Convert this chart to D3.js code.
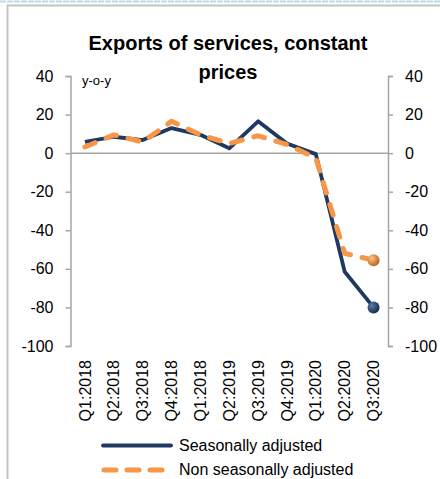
<!DOCTYPE html>
<html><head><meta charset="utf-8">
<script src="https://cdn.jsdelivr.net/npm/d3@7/dist/d3.min.js"></script>
<style>body{margin:0;background:#fff;} svg{display:block;font-family:"Liberation Sans",Arial,sans-serif;}</style>
</head><body>
<script>
const categories = ["Q1:2018","Q2:2018","Q3:2018","Q4:2018","Q1:2018","Q2:2019","Q3:2019","Q4:2019","Q1:2020","Q2:2020","Q3:2020"];
const seasonallyAdjusted = [5.8, 8.5, 6.8, 13, 9.5, 2.5, 16.5, 5, -0.5, -61.5, -80];
const nonSeasonallyAdjusted = [3.2, 9.5, 5.8, 16.5, 9.5, 5, 9, 4.5, -2.5, -52, -55.5];
const yTicks = [40, 20, 0, -20, -40, -60, -80, -100];
const seriesNames = ["Seasonally adjusted", "Non seasonally adjusted"];

(function(){
const W = 440, H = 479;
const svg = d3.select("body").append("svg").attr("width", W).attr("height", H);

const defs = svg.append("defs");
const g1 = defs.append("radialGradient").attr("id","gNavy").attr("cx","35%").attr("cy","35%").attr("r","70%");
g1.append("stop").attr("offset","0%").attr("stop-color","#5a7bab");
g1.append("stop").attr("offset","100%").attr("stop-color","#14284a");
const g2 = defs.append("radialGradient").attr("id","gOrange").attr("cx","35%").attr("cy","35%").attr("r","70%");
g2.append("stop").attr("offset","0%").attr("stop-color","#fcc48a");
g2.append("stop").attr("offset","100%").attr("stop-color","#b8621c");

// frame
svg.append("line").attr("x1",0).attr("x2",W).attr("y1",1.5).attr("y2",1.5)
  .attr("stroke","#b7dde6").attr("stroke-width",2).attr("stroke-dasharray","6,1");
svg.append("path").attr("d",`M7.5,${H} V5.5 H${W}`).attr("fill","none")
  .attr("stroke","#c4c4c4").attr("stroke-width",2);

const mLeft = 70.5, mRight = 388, mTop = 76, mBottom = 346;
const x = d3.scaleBand().domain(d3.range(categories.length)).range([mLeft, mRight]);
const y = d3.scaleLinear().domain([-100, 40]).range([mBottom, mTop]);

const axisColor = "#a6a6a6";
const fmt = d => String(d);
const yl = svg.append("g").attr("transform",`translate(${mLeft},0)`)
  .call(d3.axisLeft(y).tickValues(yTicks).tickSize(5).tickPadding(12).tickFormat(fmt));
const yr = svg.append("g").attr("transform",`translate(${mRight},0)`)
  .call(d3.axisRight(y).tickValues(yTicks).tickSize(5).tickPadding(12).tickFormat(fmt));
[yl, yr].forEach(a => {
  a.select(".domain").attr("stroke", axisColor).attr("stroke-width",1.5);
  a.selectAll(".tick line").attr("stroke", axisColor).attr("stroke-width",1.5);
  a.selectAll(".tick text").attr("font-size",16).attr("fill","#000").attr("font-family","Liberation Sans, Arial, sans-serif");
});
// zero line
svg.append("line").attr("x1",mLeft).attr("x2",mRight).attr("y1",y(0)).attr("y2",y(0))
  .attr("stroke", axisColor).attr("stroke-width",1.5);

// x labels
svg.append("g").selectAll("text").data(categories).join("text")
  .attr("transform",(d,i)=>`translate(${x(i)+x.bandwidth()/2},360) rotate(-90)`)
  .attr("text-anchor","end").attr("dy","0.35em").attr("font-size",16).text(d=>d);

// title
svg.append("text").attr("x",228).attr("y",50).attr("text-anchor","middle")
  .attr("font-weight","bold").attr("font-size",20).text("Exports of services, constant");
svg.append("text").attr("x",228).attr("y",79).attr("text-anchor","middle")
  .attr("font-weight","bold").attr("font-size",20).text("prices");
svg.append("text").attr("x",82).attr("y",85).attr("font-size",13).text("y-o-y");

const line = d3.line().x((d,i)=>x(i)+x.bandwidth()/2).y(d=>y(d));
svg.append("path").datum(seasonallyAdjusted).attr("d",line).attr("fill","none")
  .attr("stroke","#1f3a60").attr("stroke-width",3.8).attr("stroke-linejoin","round");
svg.append("path").datum(nonSeasonallyAdjusted).attr("d",line).attr("fill","none")
  .attr("stroke","#f79646").attr("stroke-width",5).attr("stroke-dasharray","11,12").attr("stroke-linecap","round").attr("stroke-linejoin","round");

const n = categories.length - 1;
svg.append("circle").attr("cx",x(n)+x.bandwidth()/2).attr("cy",y(nonSeasonallyAdjusted[n])).attr("r",6).attr("fill","url(#gOrange)");
svg.append("circle").attr("cx",x(n)+x.bandwidth()/2).attr("cy",y(seasonallyAdjusted[n])).attr("r",6).attr("fill","url(#gNavy)");

// legend
const lg = svg.append("g");
lg.append("line").attr("x1",103).attr("x2",171).attr("y1",445.5).attr("y2",445.5)
  .attr("stroke","#1f3a60").attr("stroke-width",3.8).attr("stroke-linecap","round");
lg.append("text").attr("x",179).attr("y",451).attr("font-size",16).text(seriesNames[0]);
lg.append("line").attr("x1",104).attr("x2",166).attr("y1",470).attr("y2",470)
  .attr("stroke","#f79646").attr("stroke-width",5).attr("stroke-dasharray","12,11").attr("stroke-linecap","round");
lg.append("text").attr("x",179).attr("y",475).attr("font-size",16).text(seriesNames[1]);
})();
</script>
</body></html>
